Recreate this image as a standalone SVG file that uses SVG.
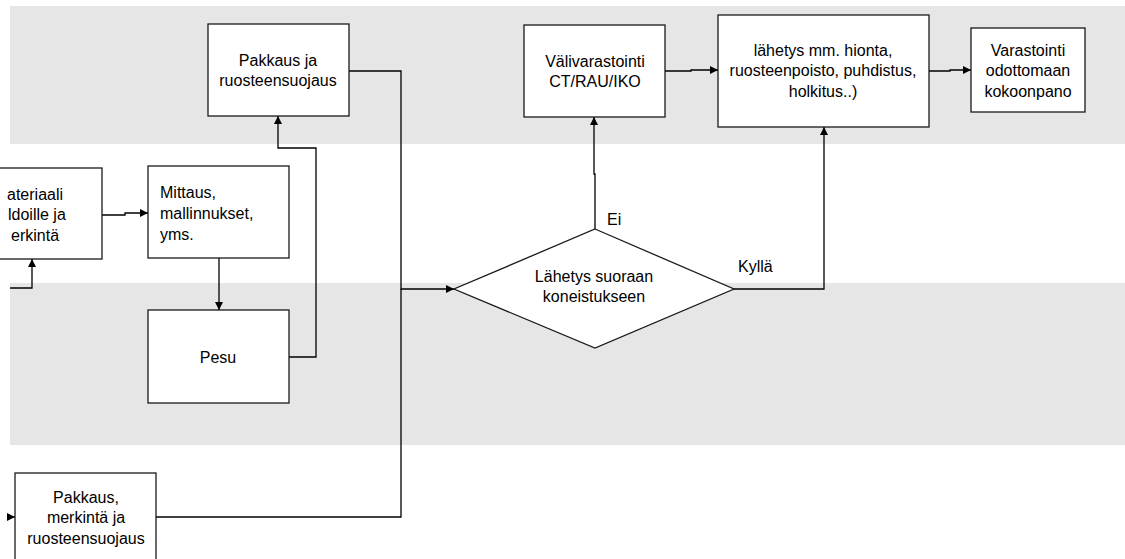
<svg xmlns="http://www.w3.org/2000/svg" width="1125" height="559" viewBox="0 0 1125 559">
<defs>
<style>
.band{fill:#e6e6e6;stroke:none}
.box{fill:#fff;stroke:#1a1a1a;stroke-width:1.3}
.t{font-family:"Liberation Sans",Arial,sans-serif;font-size:16px;fill:#000}
.c{text-anchor:middle}
.ln{fill:none;stroke:#000;stroke-width:1.3}
</style>
<marker id="ah" viewBox="0 0 10 10" refX="10" refY="5" markerWidth="10" markerHeight="8" markerUnits="userSpaceOnUse" orient="auto">
<path d="M0,0 L10,5 L0,10 z" fill="#000"/>
</marker>
</defs>
<rect width="1125" height="559" fill="#fff"/>
<rect class="band" x="10" y="6" width="1115" height="138"/>
<rect class="band" x="10" y="283" width="1115" height="162"/>

<g id="connectors">
<path class="ln" marker-end="url(#ah)" d="M102,215 H125 V213 H148"/>
<path class="ln" marker-end="url(#ah)" d="M10,288 H32 V259"/>
<path class="ln" marker-end="url(#ah)" d="M219,258 V310"/>
<path class="ln" marker-end="url(#ah)" d="M289,357 H316 V148 H278 V116"/>
<path class="ln" marker-end="url(#ah)" d="M349,71 H401 V289 H454"/>
<path class="ln" d="M156,517 H401 V289"/>
<path class="ln" marker-end="url(#ah)" d="M8,517 H15"/>
<path class="ln" marker-end="url(#ah)" d="M595,229 V174 H594 V117"/>
<path class="ln" marker-end="url(#ah)" d="M665,71 H691 V70 H718"/>
<path class="ln" marker-end="url(#ah)" d="M734,289 H824 V127"/>
<path class="ln" marker-end="url(#ah)" d="M929,71 H950 V70 H971"/>
</g>

<g id="pakkaus-ja">
<rect class="box" x="208" y="24" width="141" height="92"/>
<text class="t c" x="278" y="66">Pakkaus ja</text>
<text class="t c" x="278" y="86">ruosteensuojaus</text>
</g>

<g id="materiaali">
<rect class="box" x="-10" y="168" width="112" height="91"/>
<text class="t" x="7" y="200">ateriaali</text>
<text class="t" x="8" y="220">ldoille ja</text>
<text class="t" x="11" y="241">erkintä</text>
</g>

<g id="mittaus">
<rect class="box" x="148" y="166" width="141" height="92"/>
<text class="t" x="160" y="198">Mittaus,</text>
<text class="t" x="160" y="219">mallinnukset,</text>
<text class="t" x="160" y="240">yms.</text>
</g>

<g id="pesu">
<rect class="box" x="148" y="310" width="141" height="93"/>
<text class="t c" x="218" y="363">Pesu</text>
</g>

<g id="pakkaus-merkinta">
<rect class="box" x="15" y="473" width="141" height="100"/>
<text class="t c" x="86" y="503">Pakkaus,</text>
<text class="t c" x="86" y="523">merkintä ja</text>
<text class="t c" x="86" y="544">ruosteensuojaus</text>
</g>

<g id="valivarastointi">
<rect class="box" x="524" y="25" width="141" height="92"/>
<text class="t c" x="595" y="67">Välivarastointi</text>
<text class="t c" x="595" y="87">CT/RAU/IKO</text>
</g>

<g id="lahetys">
<rect class="box" x="718" y="15" width="211" height="112"/>
<text class="t c" x="823" y="56">lähetys mm. hionta,</text>
<text class="t c" x="823" y="76">ruosteenpoisto, puhdistus,</text>
<text class="t c" x="823" y="97">holkitus..)</text>
</g>

<g id="varastointi">
<rect class="box" x="971" y="28" width="114" height="84"/>
<text class="t c" x="1028" y="56">Varastointi</text>
<text class="t c" x="1028" y="76">odottomaan</text>
<text class="t c" x="1028" y="97">kokoonpano</text>
</g>

<g id="paatos">
<polygon class="box" points="595,229 734,289 595,348 454,289"/>
<text class="t c" x="594" y="282">Lähetys suoraan</text>
<text class="t c" x="594" y="302">koneistukseen</text>
</g>

<g id="labels">
<text class="t" x="607" y="225">Ei</text>
<text class="t" x="738" y="272">Kyllä</text>
</g>
</svg>
